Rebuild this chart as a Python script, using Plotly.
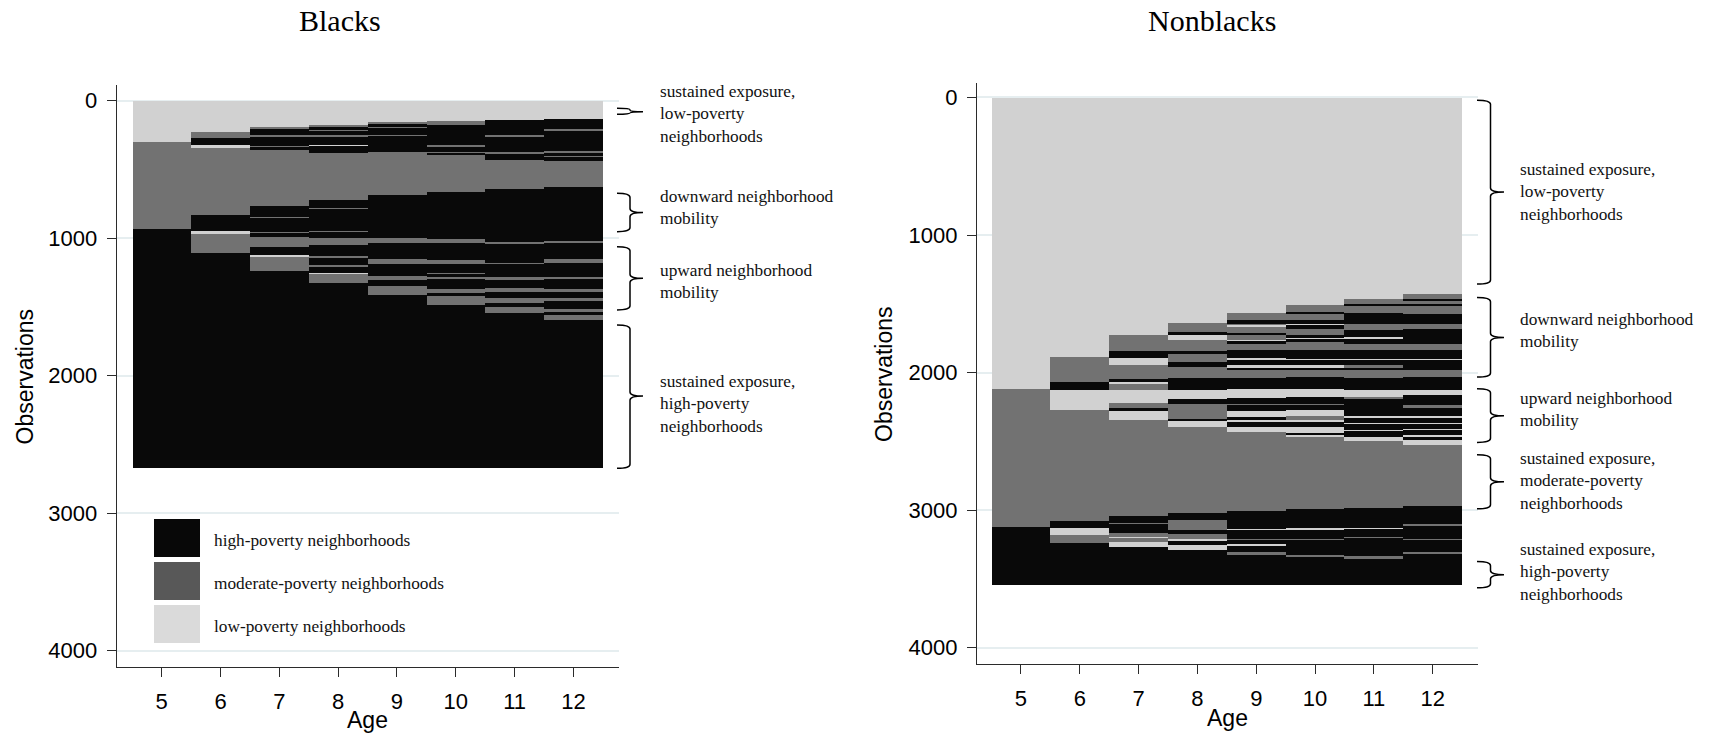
import plotly.graph_objects as go

# ---------------- data ----------------
AGES = [5, 6, 7, 8, 9, 10, 11, 12]
STATE_NAMES = {"H": "high-poverty neighborhoods",
               "M": "moderate-poverty neighborhoods",
               "L": "low-poverty neighborhoods"}

# Each column: list of (state, cumulative end observation), sorted top to bottom
blacks_5 = [("L", 303), ("M", 931), ("H", 2673)]
blacks_6 = [("L", 225), ("M", 274), ("H", 322), ("L", 341), ("M", 831), ("H", 948),
            ("L", 970), ("M", 1110), ("H", 2673)]
blacks_7 = [("L", 194), ("M", 208), ("H", 250), ("M", 262), ("H", 330), ("M", 339),
            ("H", 359), ("M", 766), ("H", 844), ("M", 851), ("H", 953), ("M", 965),
            ("H", 989), ("M", 1062), ("H", 1122), ("L", 1134), ("M", 1236), ("H", 2673)]
blacks_8 = [("L", 177), ("M", 189), ("H", 213), ("M", 218), ("H", 250), ("M", 262),
            ("H", 322), ("L", 330), ("H", 378), ("M", 722), ("H", 783), ("M", 788),
            ("H", 945), ("M", 953), ("H", 1001), ("M", 1050), ("H", 1130), ("M", 1147),
            ("H", 1195), ("M", 1207), ("H", 1251), ("L", 1260), ("M", 1328), ("H", 2673)]
blacks_9 = [("L", 157), ("M", 172), ("H", 190), ("M", 196), ("H", 250), ("M", 257),
            ("H", 371), ("M", 686), ("H", 1001), ("M", 1037), ("H", 1154), ("M", 1188),
            ("H", 1275), ("M", 1304), ("H", 1348), ("M", 1413), ("H", 2673)]
blacks_10 = [("L", 148), ("M", 177), ("H", 322), ("M", 334), ("H", 371), ("M", 383),
             ("H", 395), ("M", 662), ("H", 1008), ("M", 1037), ("H", 1159), ("M", 1188),
             ("H", 1251), ("M", 1260), ("H", 1285), ("M", 1299), ("H", 1372), ("M", 1396),
             ("H", 1420), ("M", 1486), ("H", 2673)]
blacks_11 = [("L", 140), ("H", 250), ("M", 262), ("H", 371), ("M", 388), ("H", 431),
             ("M", 645), ("H", 1025), ("M", 1042), ("H", 1178), ("M", 1188), ("H", 1280),
             ("M", 1304), ("H", 1365), ("M", 1389), ("H", 1437), ("M", 1469), ("H", 1503),
             ("M", 1547), ("H", 2673)]
blacks_12 = [("L", 133), ("H", 208), ("M", 218), ("H", 363), ("M", 378), ("H", 402),
             ("M", 412), ("H", 436), ("M", 630), ("H", 1018), ("M", 1037), ("H", 1154),
             ("M", 1178), ("H", 1280), ("M", 1299), ("H", 1372), ("M", 1389), ("H", 1437),
             ("M", 1454), ("H", 1517), ("M", 1534), ("H", 1559), ("M", 1595), ("H", 2673)]

nonblacks_5 = [("L", 2115), ("M", 3121), ("H", 3540)]
nonblacks_6 = [("L", 1885), ("M", 2062), ("H", 2120), ("L", 2272), ("M", 3077),
               ("H", 3126), ("L", 3181), ("M", 3237), ("H", 3540)]
nonblacks_7 = [("L", 1727), ("M", 1843), ("H", 1892), ("L", 1940), ("M", 2042),
               ("H", 2066), ("L", 2083), ("M", 2120), ("L", 2217), ("M", 2255),
               ("H", 2277), ("L", 2345), ("M", 3038), ("H", 3092), ("M", 3101),
               ("H", 3164), ("M", 3189), ("L", 3201), ("M", 3230), ("L", 3266), ("H", 3540)]
nonblacks_8 = [("L", 1637), ("M", 1703), ("H", 1727), ("L", 1763), ("M", 1841),
               ("H", 1865), ("M", 1921), ("H", 1957), ("M", 2037), ("H", 2120),
               ("L", 2192), ("H", 2224), ("M", 2333), ("H", 2352), ("L", 2394),
               ("M", 3019), ("H", 3072), ("M", 3140), ("H", 3174), ("M", 3206),
               ("L", 3220), ("H", 3254), ("L", 3286), ("H", 3540)]
nonblacks_9 = [("L", 1562), ("M", 1618), ("H", 1642), ("M", 1649), ("L", 1666),
               ("M", 1715), ("H", 1727), ("M", 1758), ("L", 1770), ("H", 1788),
               ("M", 1836), ("H", 1889), ("L", 1909), ("H", 1945), ("L", 1962),
               ("H", 1977), ("M", 2035), ("H", 2115), ("L", 2180), ("H", 2224),
               ("M", 2236), ("H", 2277), ("L", 2321), ("H", 2340), ("L", 2357),
               ("H", 2394), ("L", 2430), ("M", 3004), ("H", 3133), ("L", 3145),
               ("H", 3206), ("M", 3218), ("H", 3242), ("L", 3257), ("H", 3303),
               ("M", 3320), ("H", 3540)]
nonblacks_10 = [("L", 1509), ("M", 1557), ("H", 1569), ("M", 1613), ("H", 1642),
                ("L", 1649), ("H", 1678), ("M", 1727), ("H", 1746), ("L", 1756),
                ("H", 1775), ("M", 1831), ("H", 1897), ("L", 1909), ("H", 1945),
                ("L", 1962), ("H", 1981), ("M", 2030), ("H", 2115), ("L", 2175),
                ("H", 2224), ("M", 2236), ("H", 2272), ("L", 2316), ("M", 2340),
                ("L", 2357), ("H", 2394), ("L", 2437), ("H", 2447), ("L", 2466),
                ("M", 2987), ("H", 3128), ("L", 3140), ("H", 3206), ("M", 3218),
                ("H", 3327), ("M", 3339), ("H", 3540)]
nonblacks_11 = [("L", 1465), ("M", 1502), ("H", 1516), ("M", 1562), ("H", 1642),
                ("M", 1686), ("H", 1739), ("L", 1751), ("H", 1788), ("M", 1836),
                ("H", 1897), ("L", 1909), ("H", 1945), ("M", 1962), ("H", 1981),
                ("M", 2035), ("H", 2120), ("L", 2171), ("M", 2188), ("H", 2309),
                ("L", 2326), ("H", 2365), ("L", 2374), ("H", 2413), ("L", 2423),
                ("H", 2466), ("L", 2498), ("M", 2980), ("H", 3126), ("L", 3135),
                ("H", 3189), ("M", 3199), ("H", 3334), ("M", 3351), ("H", 3540)]
nonblacks_12 = [("L", 1429), ("M", 1460), ("H", 1477), ("M", 1502), ("H", 1516),
                ("M", 1569), ("H", 1642), ("M", 1678), ("H", 1788), ("M", 1836),
                ("H", 1897), ("L", 1909), ("H", 1981), ("M", 2030), ("H", 2120),
                ("L", 2163), ("H", 2236), ("M", 2253), ("H", 2309), ("L", 2326),
                ("H", 2365), ("L", 2374), ("H", 2406), ("L", 2418), ("H", 2454),
                ("L", 2466), ("H", 2490), ("L", 2527), ("M", 2970), ("H", 3097),
                ("M", 3109), ("H", 3206), ("M", 3218), ("H", 3303), ("M", 3315), ("H", 3540)]

blacks_columns = [blacks_5, blacks_6, blacks_7, blacks_8, blacks_9, blacks_10, blacks_11, blacks_12]
nonblacks_columns = [nonblacks_5, nonblacks_6, nonblacks_7, nonblacks_8,
                     nonblacks_9, nonblacks_10, nonblacks_11, nonblacks_12]

# brace groups: (top obs, bottom obs, tip obs, label)
blacks_groups = [
    (55, 99, 80, "sustained exposure,<br>low-poverty<br>neighborhoods"),
    (674, 953, 814, "downward neighborhood<br>mobility"),
    (1062, 1522, 1292, "upward neighborhood<br>mobility"),
    (1631, 2674, 2148, "sustained exposure,<br>high-poverty<br>neighborhoods"),
]
nonblacks_groups = [
    (20, 1357, 688, "sustained exposure,<br>low-poverty<br>neighborhoods"),
    (1455, 2033, 1745, "downward neighborhood<br>mobility"),
    (2118, 2509, 2315, "upward neighborhood<br>mobility"),
    (2598, 2991, 2795, "sustained exposure,<br>moderate-poverty<br>neighborhoods"),
    (3375, 3566, 3470, "sustained exposure,<br>high-poverty<br>neighborhoods"),
]
Y_TICKS = [0, 1000, 2000, 3000, 4000]

# ---------------- styling ----------------
W, H = 1711, 735
BAR_COLORS = {"H": "#090909", "M": "#727272", "L": "#d1d1d1"}
LEG_COLORS = {"H": "#080808", "M": "#585858", "L": "#dadada"}
SERIF = "Liberation Serif, Times New Roman, serif"
SANS = "Liberation Sans, Arial, sans-serif"
SMALL = 17.3


def px_x(p):
    return p / W


def px_y(p):
    return 1 - p / H


fig = go.Figure()


def add_panel(columns, xa, ya):
    for st in ["L", "M", "H"]:
        xs, bases, lens = [], [], []
        for age, col in zip(AGES, columns):
            start = 0
            for s, end in col:
                if s == st:
                    xs.append(age)
                    bases.append(start)
                    lens.append(end - start)
                start = end
        fig.add_trace(go.Bar(x=xs, y=lens, base=bases, width=1.0,
                             marker=dict(color=BAR_COLORS[st], line=dict(width=0)),
                             xaxis=xa, yaxis=ya, showlegend=False,
                             name=STATE_NAMES[st], hoverinfo="skip"))


add_panel(blacks_columns, "x", "y")
add_panel(nonblacks_columns, "x2", "y2")

axis_common = dict(showline=True, linecolor="#2b2b2b", linewidth=1.3,
                   ticks="outside", ticklen=9, tickwidth=1.3, tickcolor="#2b2b2b",
                   tickfont=dict(family=SANS, size=22, color="#000"),
                   zeroline=False)

fig.update_layout(
    width=W, height=H, margin=dict(l=0, r=0, t=0, b=0),
    paper_bgcolor="white", plot_bgcolor="white", barmode="overlay",
    bargap=0,
    xaxis=dict(domain=[px_x(116.7), px_x(618.7)], range=[4.235, 12.77],
               tickvals=AGES, showgrid=False, anchor="y",
               ticklabelstandoff=5, **axis_common),
    yaxis=dict(domain=[px_y(667.3), px_y(85)], range=[4121, -114],
               tickvals=Y_TICKS, showgrid=True, gridcolor="#e6eef0", gridwidth=2,
               anchor="x", ticklabelstandoff=5, **axis_common),
    xaxis2=dict(domain=[px_x(977), px_x(1478)], range=[4.252, 12.77],
                tickvals=AGES, showgrid=False, anchor="y2",
                ticklabelstandoff=5, **axis_common),
    yaxis2=dict(domain=[px_y(664.3), px_y(82.5)], range=[4122, -109],
                tickvals=Y_TICKS, showgrid=True, gridcolor="#e6eef0", gridwidth=2,
                anchor="x2", ticklabelstandoff=5, **axis_common),
)

annotations = []
shapes = []

# titles
for txt, cx in [("Blacks", 339.5), ("Nonblacks", 1212)]:
    annotations.append(dict(text=txt, x=px_x(cx), y=px_y(20), xref="paper", yref="paper",
                            xanchor="center", yanchor="middle", showarrow=False,
                            font=dict(family=SERIF, size=30, color="#000")))
# axis titles
for cx, cy in [(24, 376.5), (884, 374)]:
    annotations.append(dict(text="Observations", x=px_x(cx), y=px_y(cy), xref="paper",
                            yref="paper", textangle=-90, showarrow=False,
                            xanchor="center", yanchor="middle",
                            font=dict(family=SANS, size=23, color="#000")))
for cx, cy in [(367.7, 720), (1227.6, 718)]:
    annotations.append(dict(text="Age", x=px_x(cx), y=px_y(cy), xref="paper", yref="paper",
                            showarrow=False, xanchor="center", yanchor="middle",
                            font=dict(family=SANS, size=23, color="#000")))


def brace(groups, yref, xl, xv, xt, xtext, text_centers):
    for (y0, y1, ym, label), tc in zip(groups, text_centers):
        r = min(30, (y1 - y0) / 4.0)
        a, b, c = px_x(xl), px_x(xv), px_x(xt)
        path = (f"M {a},{y0} Q {b},{y0} {b},{y0 + r} L {b},{ym - r} "
                f"Q {b},{ym} {c},{ym} Q {b},{ym} {b},{ym + r} "
                f"L {b},{y1 - r} Q {b},{y1} {a},{y1}")
        shapes.append(dict(type="path", path=path, xref="paper", yref=yref,
                           line=dict(color="#000", width=1.5)))
        annotations.append(dict(text=label, x=px_x(xtext), y=px_y(tc), xref="paper",
                                yref="paper", xanchor="left", yanchor="middle",
                                align="left", showarrow=False,
                                font=dict(family=SERIF, size=SMALL, color="#111")))


brace(blacks_groups, "y", 617, 630, 643, 658, [114, 207.5, 281.5, 404])
brace(nonblacks_groups, "y2", 1477, 1490.5, 1504, 1518, [192, 331, 409.5, 481, 572])

# legend (inside Blacks panel)
for i, st in enumerate(["H", "M", "L"]):
    top = 519 + i * 43
    shapes.append(dict(type="rect", xref="paper", yref="paper",
                       x0=px_x(154), x1=px_x(200), y0=px_y(top), y1=px_y(top + 38),
                       fillcolor=LEG_COLORS[st], line=dict(width=0), layer="above"))
    annotations.append(dict(text=STATE_NAMES[st], x=px_x(212), y=px_y(top + 21),
                            xref="paper", yref="paper", xanchor="left", yanchor="middle",
                            showarrow=False,
                            font=dict(family=SERIF, size=SMALL, color="#111")))

fig.update_layout(annotations=annotations, shapes=shapes)
fig.write_html("out.html",
               config={"displayModeBar": False},
               post_script="document.body.style.margin='0';"
                           "document.body.style.overflow='hidden';")
